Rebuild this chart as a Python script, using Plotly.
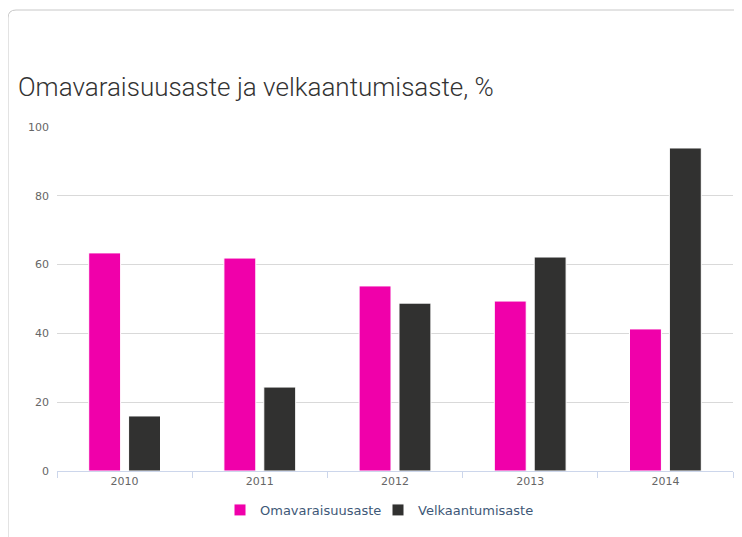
import plotly.graph_objects as go

years = ["2010", "2011", "2012", "2013", "2014"]
omavaraisuusaste = [63.4, 61.9, 53.8, 49.4, 41.3]
velkaantumisaste = [16.0, 24.4, 48.8, 62.2, 93.9]
y_ticks = [0, 20, 40, 60, 80, 100]

W, H = 742, 537
ML, MR, MT, MB = 49, 17, 119, 74
PW = W - ML - MR
PH = H - MT - MB

def px(x):
    return (x - ML) / PW

def py(y):
    return (H - MB - y) / PH

fig = go.Figure()
fig.add_trace(go.Bar(
    x=years, y=omavaraisuusaste, name="Omavaraisuusaste",
    marker=dict(color="#f000aa", line=dict(color="#ffffff", width=1)),
))
fig.add_trace(go.Bar(
    x=years, y=velkaantumisaste, name="Velkaantumisaste",
    marker=dict(color="#313130", line=dict(color="#ffffff", width=1)),
))

# card border (rounded top-left corner)
r = 8
path = (f"M {px(0)},{py(545)} L {px(0)},{py(2 + r)} "
        f"Q {px(0)},{py(2)} {px(0 + r)},{py(2)} L {px(760)},{py(2)}")
fig.add_shape(type="path", path=path, xref="paper", yref="paper",
              line=dict(color="#c8c8c8", width=1), layer="below")

fig.update_layout(
    width=W, height=H,
    margin=dict(l=ML, r=MR, t=MT, b=MB, autoexpand=False),
    paper_bgcolor="#ffffff", plot_bgcolor="#ffffff",
    barmode="group", bargap=0.41, bargroupgap=0.2,
    title=dict(
        text="Omavaraisuusaste ja velkaantumisaste, %",
        x=10 / W, xref="container", xanchor="left",
        y=1 - 79 / H, yref="container", yanchor="middle",
        font=dict(family="Roboto", size=26, color="#333333", weight=300),
    ),
    font=dict(family="DejaVu Sans, Verdana, sans-serif", size=11, color="#666666"),
    showlegend=True,
    legend=dict(
        orientation="h", x=px(370), xanchor="center", y=py(502), yanchor="middle",
        font=dict(family="DejaVu Sans, Verdana, sans-serif", size=13, color="#3e5877"),
        itemwidth=30, traceorder="normal", entrywidth=113,
    ),
    xaxis=dict(
        type="category", showgrid=False, showline=True, linecolor="#ccd6eb",
        linewidth=1, ticks="outside", tickson="boundaries", ticklen=6,
        tickcolor="#ccd6eb", tickfont=dict(size=11, color="#666666"),
        zeroline=False,
    ),
    yaxis=dict(
        range=[0, 100], tickvals=y_ticks, showgrid=True, gridcolor="#d9d9d9",
        gridwidth=1, zeroline=False, showline=False, ticks="",
        ticklabelstandoff=7, tickfont=dict(size=11, color="#666666"),
    ),
)

fig.write_html("out.html")
